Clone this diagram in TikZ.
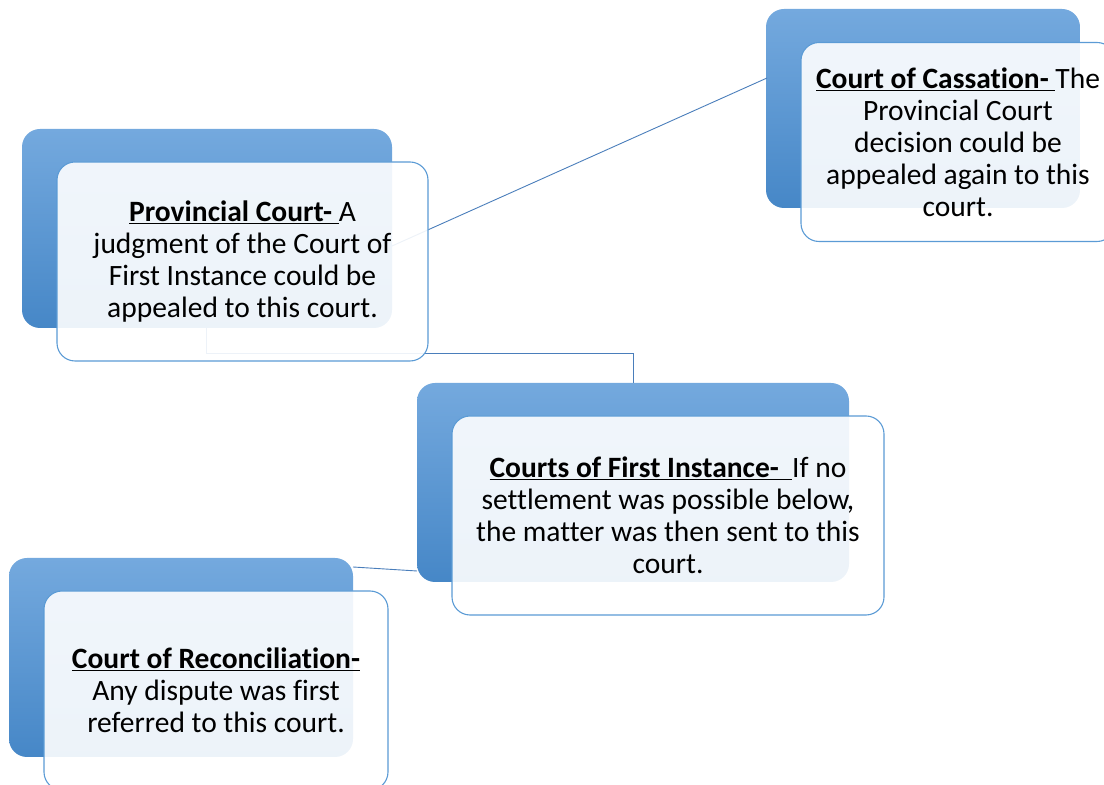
\documentclass[tikz,border=0pt]{standalone}
\usepackage{fontspec}
\setmainfont{Carlito}[RawFeature={-liga}]
\usetikzlibrary{positioning}
\definecolor{blueTop}{HTML}{74A9DE}
\definecolor{blueBot}{HTML}{4687C7}
\definecolor{frameBlue}{HTML}{5B9BD5}
\definecolor{lineBlue}{HTML}{4A7EBB}
\tikzset{
  backbox/.style={rounded corners=18pt, top color=blueTop, bottom color=blueBot, draw=none, inner sep=0pt},
  frontbox/.style={rounded corners=18pt, draw=frameBlue, line width=1.1pt, fill=white, fill opacity=0.9, text opacity=1, inner sep=0pt, align=center, font=\fontsize{29.5}{32}\selectfont},
  conn/.style={draw=lineBlue, line width=0.9pt}
}
\newcommand{\hd}[1]{\underline{\textbf{#1}}}
\begin{document}
\begin{tikzpicture}[x=1pt,y=1pt]
\useasboundingbox (0,0) rectangle (1104,785);
% back boxes
\node[backbox, minimum width=370pt, minimum height=199pt] (pb) at (207,556.5) {};
\node[backbox, minimum width=314pt, minimum height=199pt] (cb) at (923,676.5) {};
\node[backbox, minimum width=432pt, minimum height=199pt] (fb) at (633,302.5) {};
\node[backbox, minimum width=344pt, minimum height=199pt] (rb) at (181,127.5) {};
% connectors
\coordinate (pbA) at (392,539);
\coordinate (cbA) at (767,707);
\draw[conn] (pbA) -- (cbA);
\draw[conn] (pb.south west) ++(185,0) coordinate (pbS) -- ++(0,-25) -| (fb.north);
\coordinate (fbW) at (417,214);
\coordinate (rbE) at (353,218);
\draw[conn] (fbW) -- (rbE);
% front boxes
\node[frontbox, minimum width=371pt, minimum height=199pt] (pf) at (242.5,523.5)
  {\hd{Provincial Court-\ }A\\judgment of the Court of\\First Instance could be\\appealed to this court.};
\node[frontbox, minimum width=314pt, minimum height=199pt] (cf) at (958,643)
  {\hd{Court of Cassation-\ }The\\Provincial Court\\decision could be\\appealed again to this\\court.};
\node[frontbox, minimum width=432pt, minimum height=199pt] (ff) at (668,269.5)
  {\hd{Courts of First Instance-\ \ }If no\\settlement was possible below,\\the matter was then sent to this\\court.};
\node[frontbox, minimum width=344pt, minimum height=199pt] (rf) at (216,94.5)
  {\hd{Court of Reconciliation-}\\Any dispute was first\\referred to this court.};
\end{tikzpicture}
\end{document}
